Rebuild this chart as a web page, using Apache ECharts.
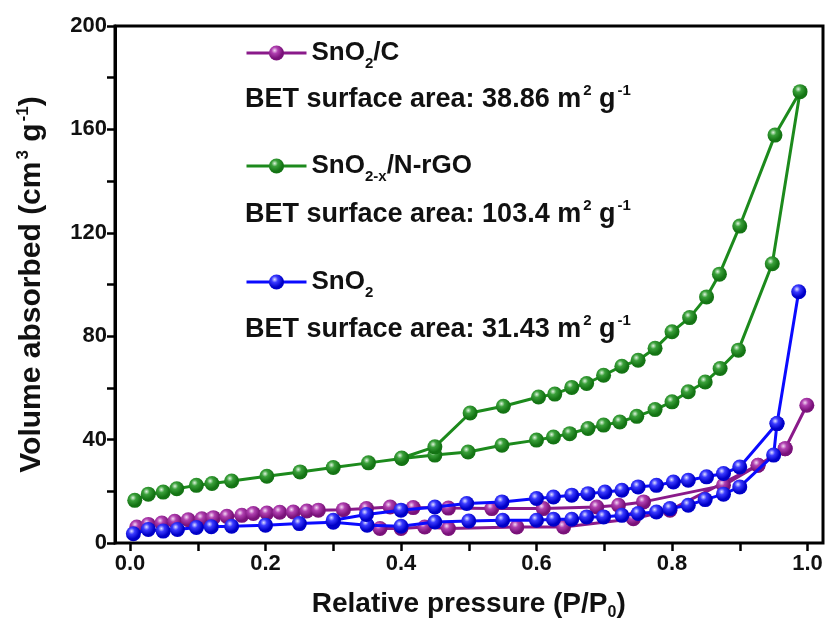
<!DOCTYPE html>
<html>
<head>
<meta charset="utf-8">
<script src="https://cdn.jsdelivr.net/npm/echarts@6/dist/echarts.min.js"></script>
<style>html,body{margin:0;padding:0;background:#fff}#c{width:829px;height:626px}</style>
</head>
<body>
<div id="c"></div>
<script>
// ---- Data ----
// SnO2/C
const snoC_adsX = [0.010,0.027,0.047,0.066,0.086,0.106,0.123,0.143,0.165,0.182,0.202,0.221,0.241,0.261,0.278,0.315,0.349,0.384,0.418,0.470,0.534,0.610,0.689,0.721,0.758,0.876,0.927,0.967,0.999];
const snoC_adsY = [6.2,7.2,7.7,8.4,9.0,9.4,9.8,10.3,10.7,11.4,11.6,11.9,12.0,12.4,12.7,12.9,13.3,13.9,13.7,13.5,13.3,13.3,13.9,14.6,15.9,22.3,30.1,36.5,53.3];
const snoC_desX = [0.967,0.927,0.797,0.743,0.640,0.571,0.470,0.435,0.400,0.369];
const snoC_desY = [36.5,30.1,12.7,9.4,6.2,6.2,5.6,6.2,5.6,5.6];
// SnO2-x/N-rGO
const rgo_adsX = [0.007,0.027,0.049,0.069,0.098,0.121,0.150,0.202,0.251,0.300,0.352,0.401,0.450,0.499,0.549,0.600,0.625,0.649,0.676,0.699,0.723,0.748,0.775,0.800,0.824,0.849,0.871,0.898,0.948,0.989];
const rgo_adsY = [16.5,18.9,19.7,21.0,22.3,23.0,24.0,25.8,27.5,29.2,31.0,32.7,34.0,35.2,37.8,39.8,41.0,42.3,44.3,45.6,46.8,49.0,51.6,54.6,58.5,62.3,67.5,74.6,108.0,174.6];
const rgo_desX = [0.952,0.900,0.870,0.851,0.826,0.800,0.775,0.750,0.726,0.699,0.674,0.652,0.627,0.603,0.551,0.502,0.450,0.401];
const rgo_desY = [157.8,122.6,104.0,95.2,87.2,81.7,75.3,70.7,68.4,64.9,61.7,60.2,57.6,56.5,52.9,50.3,37.2,32.9];
// SnO2
const sno_adsX = [0.005,0.027,0.049,0.070,0.098,0.120,0.150,0.200,0.250,0.300,0.350,0.400,0.450,0.500,0.550,0.600,0.625,0.652,0.674,0.699,0.726,0.750,0.777,0.797,0.824,0.849,0.876,0.900,0.950,0.955,0.987];
const sno_adsY = [3.6,5.2,4.6,5.2,6.0,6.3,6.5,6.9,7.5,8.0,6.9,6.5,8.1,8.5,8.8,8.8,9.2,9.2,10.1,10.1,10.7,11.4,12.0,13.3,14.6,16.8,18.9,21.7,34.0,46.2,97.2];
const sno_desX = [0.955,0.900,0.876,0.851,0.824,0.802,0.777,0.750,0.726,0.701,0.676,0.652,0.625,0.600,0.549,0.497,0.450,0.400,0.349,0.300];
const sno_desY = [46.2,29.4,26.9,25.6,24.3,23.6,22.3,21.7,20.4,19.7,19.1,18.5,17.8,17.2,15.9,15.3,13.9,12.7,11.0,8.8];
// Axis ticks
const xTicks = [0.0,0.2,0.4,0.6,0.8,1.0];
const yTicks = [0,40,80,120,160,200];
const seriesNames = ['SnO2/C','SnO2-x/N-rGO','SnO2'];
const betTexts = ['38.86','103.4','31.43'];

function pairs(xs, ys){ return xs.map((x,i)=>[x, ys[i]]); }
function sphere(light, mid, dark){
  return {type:'radial', x:0.38, y:0.33, r:0.7, colorStops:[
    {offset:0, color:light},{offset:0.3, color:mid},{offset:0.75, color:dark},{offset:1, color:dark}]};
}
const FONT = 'Liberation Sans, Arial, sans-serif';
const colors = {
  c:{line:'#8a1a8a', s:sphere('#f4d8f4','#b040b0','#7a127a')},
  g:{line:'#1c8a1c', s:sphere('#e0f4e0','#3aa03a','#147414')},
  b:{line:'#0a0aff', s:sphere('#e0e0ff','#3a3aff','#0000c8')}
};
function mkSeries(name, data, c, z){
  return {name, type:'line', xAxisIndex:0, yAxisIndex:0, data, clip:false, z,
    symbol:'circle', symbolSize:15, showSymbol:true,
    lineStyle:{width:3, color:c.line}, itemStyle:{color:c.s, borderWidth:0}};
}
const legendRich = {
  sub:{fontSize:15, fontWeight:'bold', fontFamily:FONT, color:'#111', verticalAlign:'bottom', lineHeight:16}
};
const legendLabel = {'SnO2/C':'SnO{sub|2}/C','SnO2-x/N-rGO':'SnO{sub|2-x}/N-rGO','SnO2':'SnO{sub|2}'};
function mkLegend(name, top){
  return {data:[name], left:245, top, padding:0, itemWidth:60, itemHeight:19, selectedMode:false,
    lineStyle:{width:3},
    formatter:n=>legendLabel[n],
    textStyle:{fontSize:26, fontWeight:'bold', fontFamily:FONT, color:'#111', lineHeight:36, rich:legendRich}};
}
function mkBet(val, top){
  return {type:'text', left:245, top,
    style:{text:'BET surface area: '+val+' m{sup|2} g{sup|-1}', fontSize:27, fontWeight:'bold', fontFamily:FONT, fill:'#111', lineHeight:34,
      rich:{sup:{fontSize:15, fontWeight:'bold', fontFamily:FONT, fill:'#111', verticalAlign:'top', lineHeight:16, padding:[0,0,0,2]}}}};
}

const chart = echarts.init(document.getElementById('c'));
chart.setOption({
  animation:false,
  backgroundColor:'#fff',
  grid:[
    {left:130, right:21.5, top:26, bottom:83, show:false},
    {left:115, right:6, top:26, bottom:83, show:true, borderWidth:3, borderColor:'#000', backgroundColor:'transparent'}
  ],
  xAxis:[
    {type:'value', gridIndex:0, min:0, max:1, interval:0.1,
      axisLine:{show:false}, splitLine:{show:false},
      axisTick:{show:true, inside:false, length:8, lineStyle:{width:2.5, color:'#000'}},
      axisLabel:{margin:10, fontSize:22, fontWeight:'bold', fontFamily:FONT, color:'#111',
        formatter:v=>{const t=xTicks.find(k=>Math.abs(k-v)<1e-6); return t===undefined?'':t.toFixed(1);}},
      name:'Relative pressure (P/P{sub|0})', nameLocation:'middle', nameGap:44,
      nameTextStyle:{fontSize:28, fontWeight:'bold', fontFamily:FONT, color:'#111', lineHeight:34,
        rich:{sub:{fontSize:16, fontWeight:'bold', fontFamily:FONT, color:'#111', verticalAlign:'bottom', lineHeight:16}}}},
    {type:'value', gridIndex:1, min:0, max:1, show:false}
  ],
  yAxis:[
    {type:'value', gridIndex:0, min:0, max:200, show:false},
    {type:'value', gridIndex:1, min:0, max:200, interval:20,
      axisLine:{show:true, lineStyle:{width:3, color:'#000'}}, splitLine:{show:false},
      axisTick:{show:true, inside:false, length:8, lineStyle:{width:2.5, color:'#000'}},
      axisLabel:{margin:8, fontSize:22, fontWeight:'bold', fontFamily:FONT, color:'#111',
        formatter:v=>yTicks.includes(v)?String(v):''},
      name:'Volume absorbed (cm{sup|3} g{sup|-1})', nameLocation:'middle', nameGap:66,
      nameTextStyle:{fontSize:30, fontWeight:'bold', fontFamily:FONT, color:'#111', lineHeight:34,
        rich:{sup:{fontSize:17, fontWeight:'bold', fontFamily:FONT, color:'#111', verticalAlign:'top', lineHeight:16, padding:[0,0,0,2]}}}}
  ],
  legend:[mkLegend(seriesNames[0],35), mkLegend(seriesNames[1],148), mkLegend(seriesNames[2],264)],
  graphic:[mkBet(betTexts[0],83), mkBet(betTexts[1],198), mkBet(betTexts[2],313)],
  series:[
    mkSeries(seriesNames[0], pairs(snoC_adsX,snoC_adsY).concat(pairs(snoC_desX,snoC_desY)), colors.c, 2),
    mkSeries(seriesNames[1], pairs(rgo_adsX,rgo_adsY).concat(pairs(rgo_desX,rgo_desY)), colors.g, 3),
    mkSeries(seriesNames[2], pairs(sno_adsX,sno_adsY).concat(pairs(sno_desX,sno_desY)), colors.b, 4)
  ]
});
</script>
</body>
</html>
